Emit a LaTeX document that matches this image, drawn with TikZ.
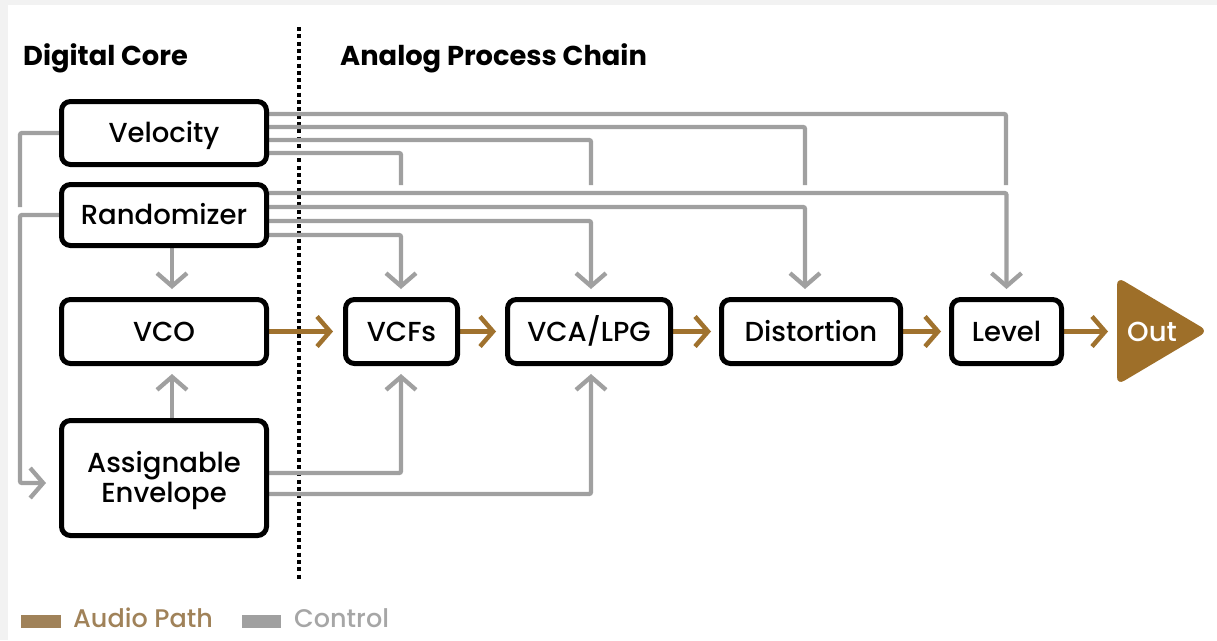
\documentclass[tikz,border=0pt]{standalone}
\usepackage{fontspec}
\setmainfont{Poppins}[UprightFont={* Medium},BoldFont={* Bold}]
\newfontfamily\legfont{Poppins Medium}
\usetikzlibrary{arrows.meta,backgrounds}
\definecolor{ctrlc}{HTML}{A0A0A0}
\definecolor{audioc}{HTML}{A0722E}
\definecolor{outc}{HTML}{9E6F29}
\definecolor{legaudio}{HTML}{A08259}
\definecolor{legctrl}{HTML}{A6A6A6}
\definecolor{bgc}{HTML}{F2F2F2}
\tikzset{
  blk/.style={draw=black, line width=5pt, rounded corners=9pt, fill=white, inner sep=0pt,
    font=\fontsize{27.5}{30}\selectfont, text height=19.3pt, text depth=0pt, minimum width=205pt, minimum height=64pt},
  ctrl/.style={draw=ctrlc, line width=4.3pt, rounded corners=2pt},
  ctrlarrow/.style={ctrl, -{Straight Barb[length=13pt,width=30pt]}, shorten >=8pt},
  audioarrow/.style={draw=audioc, line width=4.5pt, -{Straight Barb[length=13pt,width=30pt]}, shorten >=9pt},
  title/.style={anchor=base west, inner sep=0pt, font=\bfseries\fontsize{27.3}{32}\selectfont},
  legtext/.style={anchor=base west, inner sep=0pt, font=\legfont\fontsize{25.5}{28}\selectfont},
  dotline/.style={draw=black, line width=4.4pt, dash pattern=on 4pt off 3.3pt}
}
\begin{document}
\begin{tikzpicture}[x=1pt,y=-1pt]
\useasboundingbox (0,0) rectangle (1217,640);

% boxes
\node[blk, minimum height=63pt] (vel) at (164,133) {Velocity};
\node[blk, minimum height=61pt] (rnd) at (164,215) {Randomizer};
\node[blk] (vco) at (164,331.5) {VCO};
\node[blk, minimum height=115pt, align=center, text height=49.3pt, font=\fontsize{27.5}{30}\selectfont] (env) at (164,478) {Assignable\\Envelope};
\node[blk, minimum width=112pt] (vcf) at (401.5,331.5) {VCFs};
\node[blk, minimum width=163pt] (vca) at (589,331.5) {VCA/LPG};
\node[blk, minimum width=179pt] (dist) at (811,331.5) {Distortion};
\node[blk, minimum width=110pt] (lvl) at (1006.5,331.5) {Level};

% output triangle
\coordinate (outb) at (1117,331.5);
\fill[outc, rounded corners=8pt] (1117,277) -- (1208,331) -- (1117,385) -- cycle;
\node[inner sep=0pt, text=white, font=\legfont\fontsize{27.5}{30}\selectfont, text height=19.3pt, text depth=0pt] (out) at (1152,331.5) {Out};

% titles
\node[title] (tdig) at (23,65) {Digital Core};
\node[title] (tana) at (340,65) {Analog Process Chain};

% legend
\coordinate (la1) at (21,615); \coordinate (la2) at (61,628);
\fill[legaudio] (la1) rectangle (la2);
\node[legtext, text=legaudio] (laudio) at (73,627) {Audio Path};
\coordinate (lc1) at (242,615); \coordinate (lc2) at (281,628);
\fill[ctrlc] (lc1) rectangle (lc2);
\node[legtext, text=legctrl] (lctrl) at (294,627) {Control};

\begin{scope}[on background layer]
  \fill[bgc] (0,0) rectangle (1217,640);
  \fill[white] (8,5) rectangle (1217,640);
  % divider
  \coordinate (d1) at (299,27); \coordinate (d2) at (299,581);
  \draw[dotline] (d1) -- (d2);

  % velocity lines
  \coordinate (v1) at (401,185); \coordinate (v2) at (591,185);
  \coordinate (v3) at (805,185); \coordinate (v4) at (1006,185);
  \draw[ctrl] ([yshift=19pt]vel.east) -| (v4);
  \draw[ctrl] ([yshift=6pt]vel.east) -| (v3);
  \draw[ctrl] ([yshift=-7pt]vel.east) -| (v2);
  \draw[ctrl] ([yshift=-20pt]vel.east) -| (v1);

  % randomizer lines
  \draw[ctrlarrow] ([yshift=22pt]rnd.east) -| (lvl.north);
  \draw[ctrlarrow] ([yshift=8pt]rnd.east) -| ([xshift=-6pt]dist.north);
  \draw[ctrlarrow] ([yshift=-6pt]rnd.east) -| ([xshift=2pt]vca.north);
  \draw[ctrlarrow] ([yshift=-20pt]rnd.east) -| ([xshift=-0.5pt]vcf.north);

  % envelope lines
  \draw[ctrlarrow] ([yshift=5pt]env.east) -| ([xshift=-0.5pt]vcf.south);
  \draw[ctrlarrow] ([yshift=-16pt]env.east) -| ([xshift=2pt]vca.south);

  % to VCO
  \draw[ctrlarrow] ([xshift=8pt]rnd.south) -- ([xshift=8pt]vco.north);
  \draw[ctrlarrow] ([xshift=8pt]env.north) -- ([xshift=8pt]vco.south);

  % left feedback
  \coordinate (lv) at (20,207);
  \draw[ctrl] (vel.west) -| (lv);
  \coordinate (lr) at (20,483);
  \draw[ctrlarrow, shorten >=13pt] (rnd.west) -| (lr) -- ([yshift=-5pt]env.west);

  % audio path
  \draw[audioarrow, shorten >=10pt] (vco.east) -- (vcf.west);
  \draw[audioarrow] (vcf.east) -- (vca.west);
  \draw[audioarrow, shorten >=8pt] (vca.east) -- (dist.west);
  \draw[audioarrow, shorten >=8pt] (dist.east) -- (lvl.west);
  \draw[audioarrow] (lvl.east) -- (outb);
\end{scope}
\end{tikzpicture}
\end{document}
